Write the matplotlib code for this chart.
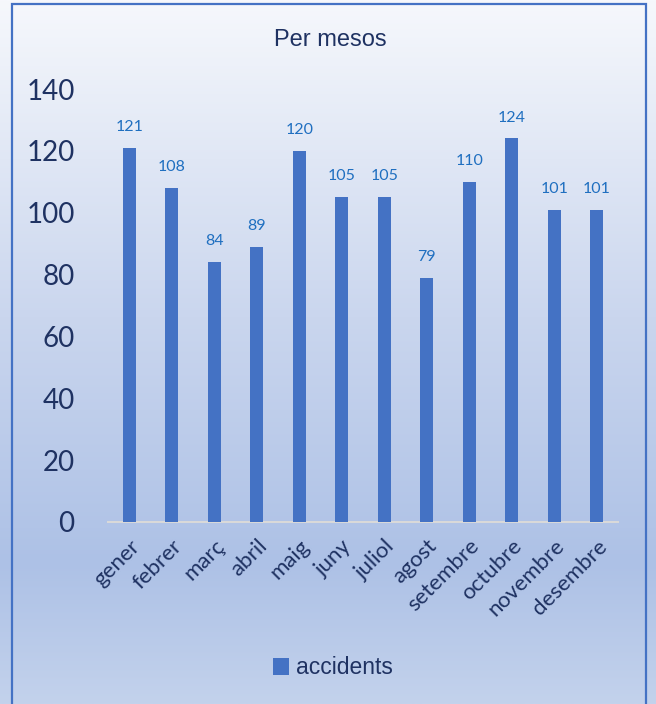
import numpy as np
import matplotlib.pyplot as plt
from matplotlib.colors import LinearSegmentedColormap
from matplotlib.patches import Rectangle

mesos = ['gener', 'febrer', 'març', 'abril', 'maig', 'juny', 'juliol',
         'agost', 'setembre', 'octubre', 'novembre', 'desembre']
accidents = [121, 108, 84, 89, 120, 105, 105, 79, 110, 124, 101, 101]
yticks = [0, 20, 40, 60, 80, 100, 120, 140]

W, H = 656, 704
fig = plt.figure(figsize=(W/100, H/100), dpi=100)

# background gradient
bg = fig.add_axes([0, 0, 1, 1], zorder=-10)
cmap = LinearSegmentedColormap.from_list('bg', [
    (0.0, '#f6f8fc'), (0.45, '#cad6ee'), (0.8, '#adc1e6'), (1.0, '#c3d2ec')])
grad = np.linspace(0, 1, 256).reshape(-1, 1)
bg.imshow(grad, aspect='auto', cmap=cmap, extent=[0, 1, 0, 1], origin='upper')
bg.add_patch(Rectangle((12/W, -0.05), (646-12)/W, (H-4)/H + 0.05, fill=False,
                       edgecolor='#4472c4', linewidth=1.6, transform=bg.transAxes))
bg.set_xlim(0, 1)
bg.set_ylim(0, 1)
bg.axis('off')

ax = fig.add_axes([108/W, (H-522)/H, 510/W, (522-89)/H])
ax.patch.set_alpha(0)
x = np.arange(len(mesos))
bars = ax.bar(x, accidents, width=0.31, color='#4472c4', label='accidents', zorder=3)
for xi, v in zip(x, accidents):
    ax.annotate(str(v), (xi, v), xytext=(0, 10), textcoords='offset points',
                ha='center', va='bottom', fontsize=11.5, color='#1f6fc0', family='Lato')

ax.set_xlim(-0.5, len(mesos) - 0.5)
ax.set_ylim(0, 140)
ax.set_yticks(yticks)
ax.set_yticklabels([str(t) for t in yticks], fontsize=20, family='Lato', color='#1f3262')
ax.tick_params(axis='y', length=0, pad=24)
ax.set_xticks(x)
ax.set_xticklabels(mesos, rotation=45, ha='right', rotation_mode='anchor',
                   fontsize=16, family='Lato', color='#1f3262')
ax.tick_params(axis='x', length=0, pad=10)
for s in ['top', 'right', 'left']:
    ax.spines[s].set_visible(False)
ax.spines['bottom'].set_color('#d9d9d9')
ax.spines['bottom'].set_linewidth(1.5)

fig.text(330/W, 1 - 40/H, 'Per mesos', ha='center', va='center', fontsize=17,
         family='Liberation Sans', color='#1f3262')

fig.legend(handles=[bars], labels=['accidents'], loc='center',
           bbox_to_anchor=(333/W, 1 - 668/H), frameon=False,
           prop={'family': 'Liberation Sans', 'size': 16.5},
           handlelength=0.7, handleheight=0.7, handletextpad=0.3, labelcolor='#1f3262')

fig.savefig('out.png', dpi=100)
